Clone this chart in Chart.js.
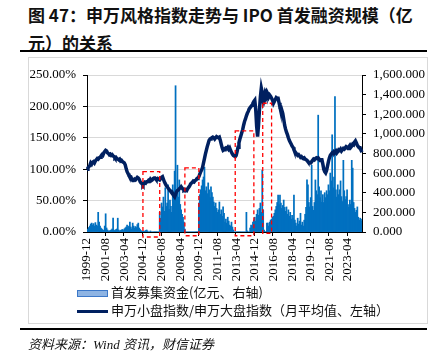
<!DOCTYPE html>
<html lang="zh">
<head>
<meta charset="UTF-8">
<title>申万风格指数走势与IPO首发融资规模</title>
<script src="https://cdn.jsdelivr.net/npm/chart.js"></script>
<style>
    body {
        margin: 0;
        width: 434px;
        height: 362px;
        position: relative;
        background: #fff;
        overflow: hidden;
        font-family: "Noto Sans CJK SC", sans-serif;
    }
    #title {
        position: absolute;
        left: 28px;
        top: 1px;
        font-size: 17px;
        font-weight: bold;
        line-height: 28px;
        color: #111;
        white-space: nowrap;
    }
    .rule {
        position: absolute;
        left: 20px;
        width: 407px;
        height: 2px;
        background: #000;
    }
    #frame {
        position: absolute;
        left: 28px;
        top: 57px;
        width: 398px;
        height: 265px;
        border: 1px solid #d9d9d9;
    }
    #chartBox {
        position: absolute;
        left: 28px;
        top: 57px;
        width: 399px;
        height: 230px;
    }
    .leg {
        position: absolute;
        left: 77px;
        height: 18px;
        line-height: 18px;
        font-size: 13px;
        color: #111;
        white-space: nowrap;
    }
    .patch {
        display: inline-block;
        width: 29px;
        height: 5px;
        background: #8eb4e3;
        border: 1px solid #3c78c8;
        vertical-align: middle;
        margin-right: 3px;
    }
    .lineicon {
        display: inline-block;
        width: 31px;
        height: 3px;
        background: #002060;
        vertical-align: middle;
        margin-right: 3px;
    }
    #source {
        position: absolute;
        left: 28px;
        top: 334px;
        font-size: 13px;
        font-style: italic;
        font-family: "Liberation Serif", "Noto Sans CJK SC", serif;
        color: #111;
    }
</style>
</head>
<body>
<div id="title">图 47：申万风格指数走势与 IPO 首发融资规模（亿<br>元）的关系</div>
<div class="rule" style="top:50px"></div>
<div id="frame"></div>
<div id="chartBox"><canvas id="chartCanvas" width="399" height="230"></canvas></div>
<div class="leg" style="top:283px"><span class="patch"></span>首发募集资金(亿元、右轴)</div>
<div class="leg" style="top:301px"><span class="lineicon"></span>申万小盘指数/申万大盘指数（月平均值、左轴）</div>
<div class="rule" style="top:328px"></div>
<div id="source">资料来源：Wind 资讯，财信证券</div>

<script>
    // monthly, 1999-12 .. 2024-07
    const startYear = 1999;
    const startMonth = 12;
    const monthCount = 296;
    const labelEvery = 20;

    // 申万小盘指数/申万大盘指数, monthly average, %
    const ratioValues = [
        100, 102, 104, 106, 110, 108, 111, 112, 110, 113, 115, 117,
        116, 118, 119, 121, 123, 122, 126, 128, 130, 129, 126, 125,
        123, 124, 122, 123, 121, 120, 118, 119, 117, 116, 115, 116,
        113, 114, 112, 111, 110, 107, 101, 96, 93, 90, 89, 88,
        84, 82, 82, 84, 83, 85, 87, 86, 84, 80, 78, 77,
        75, 77, 79, 78, 80, 80, 82, 81, 84, 82, 83, 85,
        86, 86, 84, 83, 85, 84, 83, 85, 87, 88, 84, 80,
        77, 74, 72, 70, 68, 66, 65, 64, 61, 58, 56, 60,
        64, 66, 67, 69, 70, 72, 70, 68, 67, 68, 67, 66,
        69, 71, 73, 76, 78, 79, 81, 80, 82, 83, 85, 86,
        88, 92, 96, 99, 103, 110, 117, 124, 130, 136, 141, 146,
        148, 149, 150, 151, 150, 148, 150, 152, 151, 150, 151, 146,
        140, 134, 130, 131, 133, 134, 133, 135, 132, 134, 130, 127,
        124, 122, 121, 120, 122, 128, 135, 142, 148, 153, 158, 163,
        170, 176, 180, 185, 189, 192, 196, 198, 200, 202, 205, 208,
        210, 195, 168, 152, 170, 195, 215, 229, 222, 210, 216, 222,
        218, 223, 220, 215, 218, 216, 213, 210, 205, 208, 211, 214,
        213, 213, 206, 199, 199, 194, 189, 180, 170, 164, 159, 155,
        150, 146, 143, 140, 137, 135, 131, 128, 126, 124, 122, 123,
        121, 119, 120, 118, 117, 118, 116, 115, 114, 112, 111, 110,
        110, 112, 114, 116, 115, 117, 118, 117, 118, 116, 114, 115,
        115, 108, 100, 96, 94, 98, 105, 112, 118, 122, 124, 126,
        125, 128, 127, 129, 126, 128, 131, 130, 132, 129, 131, 133,
        132, 134, 136, 135, 133, 136, 138, 135, 137, 140, 139, 143,
        145, 142, 138, 136, 134, 134, 130, 127
    ];

    // 首发募集资金, 亿元
    const ipoValues = [
        10, 30, 45, 60, 80, 90, 70, 85, 60, 95, 70, 60,
        200, 100, 60, 40, 30, 20, 15, 60, 185, 40, 20, 10,
        10, 15, 20, 30, 140, 20, 10, 25, 30, 140, 20, 10,
        15, 20, 25, 15, 30, 40, 50, 70, 45, 60, 100, 50,
        30, 90, 60, 40, 55, 45, 75, 90, 40, 25, 15, 5,
        0, 10, 5, 15, 20, 10, 0, 0, 10, 0, 0, 0,
        0, 0, 0, 0, 0, 0, 200, 140, 295, 255, 355, 210,
        450, 260, 295, 480, 230, 325, 260, 200, 480, 350, 620, 1490,
        420, 680, 355, 530, 280, 225, 180, 150, 100, 30, 0, 0,
        0, 0, 0, 0, 0, 0, 0, 0, 0, 0, 0, 0,
        295, 380, 430, 470, 530, 560, 660, 420, 460, 390, 500, 430,
        350, 460, 400, 355, 305, 260, 295, 240, 200, 225, 305, 180,
        225, 160, 255, 190, 100, 130, 90, 150, 110, 70, 60, 100,
        50, 20, 0, 0, 0, 0, 0, 0, 0, 0, 0, 0,
        0, 0, 0, 200, 10, 0, 0, 40, 70, 60, 100, 120,
        150, 110, 180, 225, 170, 240, 295, 200, 630, 225, 20, 0,
        0, 90, 90, 60, 100, 120, 130, 150, 160, 190, 225, 260,
        300, 375, 280, 375, 295, 240, 270, 325, 250, 210, 255, 180,
        225, 160, 200, 130, 170, 140, 375, 120, 90, 60, 140, 80,
        110, 190, 70, 100, 60, 120, 180, 250, 530, 480, 300, 255,
        350, 680, 260, 220, 300, 530, 420, 380, 1190, 460, 350, 420,
        305, 380, 300, 400, 350, 420, 380, 480, 420, 600, 520, 990,
        450, 560, 1380, 430, 355, 480, 380, 430, 520, 360, 310, 730,
        420, 330, 360, 430, 280, 250, 325, 280, 730, 650, 300, 240,
        200, 220, 255, 150, 120, 140, 110, 130
    ];

    // red dashed boxes: month index range and left-axis (%) range
    const boxFrom = [60, 105, 159, 188.5];
    const boxTo = [78, 120, 179, 198];
    const boxTop = [96, 102, 161, 205];
    const boxBottom = [-8, -6, -6, -2];

    const months = [];
    for (let i = 0; i < monthCount; i++) {
        const m = (startMonth - 1 + i) % 12 + 1;
        const y = startYear + Math.floor((startMonth - 1 + i) / 12);
        months.push(y + '-' + String(m).padStart(2, '0'));
    }

    const tickFont = { family: 'Liberation Serif', size: 13 };

    const redBoxes = {
        id: 'redBoxes',
        afterDatasetsDraw(chart) {
            const c = chart.ctx;
            const x = chart.scales.x;
            const y = chart.scales.y;
            c.save();
            c.strokeStyle = '#ff0000';
            c.lineWidth = 1.3;
            c.setLineDash([4, 3]);
            for (let k = 0; k < boxFrom.length; k++) {
                const x0 = x.getPixelForValue(boxFrom[k]);
                const x1 = x.getPixelForValue(boxTo[k]);
                const y0 = y.getPixelForValue(boxTop[k]);
                const y1 = y.getPixelForValue(boxBottom[k]);
                c.strokeRect(x0, y0, x1 - x0, y1 - y0);
            }
            c.restore();
        }
    };

    const ctx = document.getElementById('chartCanvas').getContext('2d');
    const chart = new Chart(ctx, {
        data: {
            labels: months,
            datasets: [{
                type: 'line',
                label: '申万小盘指数/申万大盘指数（月平均值、左轴）',
                data: ratioValues,
                yAxisID: 'y',
                borderColor: '#002060',
                borderWidth: 3.5,
                pointRadius: 0,
                tension: 0,
                order: 0
            }, {
                type: 'bar',
                label: '首发募集资金(亿元、右轴)',
                data: ipoValues,
                yAxisID: 'y1',
                backgroundColor: '#0070c0',
                borderWidth: 0,
                inflateAmount: 0.4,
                barPercentage: 1,
                categoryPercentage: 1,
                order: 1
            }]
        },
        options: {
            responsive: false,
            animation: false,
            layout: { padding: { top: 18, left: 0, right: 0, bottom: 0 } },
            plugins: {
                legend: { display: false },
                tooltip: { enabled: false }
            },
            scales: {
                x: {
                    type: 'category',
                    offset: false,
                    afterFit: (s) => { s.height = 55; },
                    border: { color: '#000', width: 1 },
                    grid: {
                        drawOnChartArea: false,
                        drawTicks: true,
                        tickLength: 4,
                        tickColor: (c) => (c.index % labelEvery === 0 ? '#000' : 'rgba(0,0,0,0)'),
                        tickWidth: 1
                    },
                    ticks: {
                        autoSkip: false,
                        minRotation: 90,
                        maxRotation: 90,
                        padding: 2,
                        color: '#000',
                        font: tickFont,
                        callback: (v, i) => (i % labelEvery === 0 ? months[i] : '')
                    }
                },
                y: {
                    position: 'left',
                    min: 0,
                    max: 250,
                    afterFit: (s) => { s.width = 59; },
                    border: { color: '#000', width: 1 },
                    grid: { color: '#d9d9d9', tickColor: '#000', tickLength: 4 },
                    ticks: {
                        stepSize: 50,
                        padding: 7,
                        color: '#000',
                        font: tickFont,
                        callback: (v) => v.toFixed(2) + '%'
                    }
                },
                y1: {
                    position: 'right',
                    min: 0,
                    max: 1600,
                    afterFit: (s) => { s.width = 65; },
                    border: { color: '#000', width: 1 },
                    grid: { drawOnChartArea: false, tickColor: '#000', tickLength: 4 },
                    ticks: {
                        stepSize: 200,
                        padding: 7,
                        color: '#000',
                        font: tickFont,
                        callback: (v) => v.toLocaleString('en-US', { minimumFractionDigits: 3, maximumFractionDigits: 3 })
                    }
                }
            }
        },
        plugins: [redBoxes]
    });
</script>
</body>
</html>
